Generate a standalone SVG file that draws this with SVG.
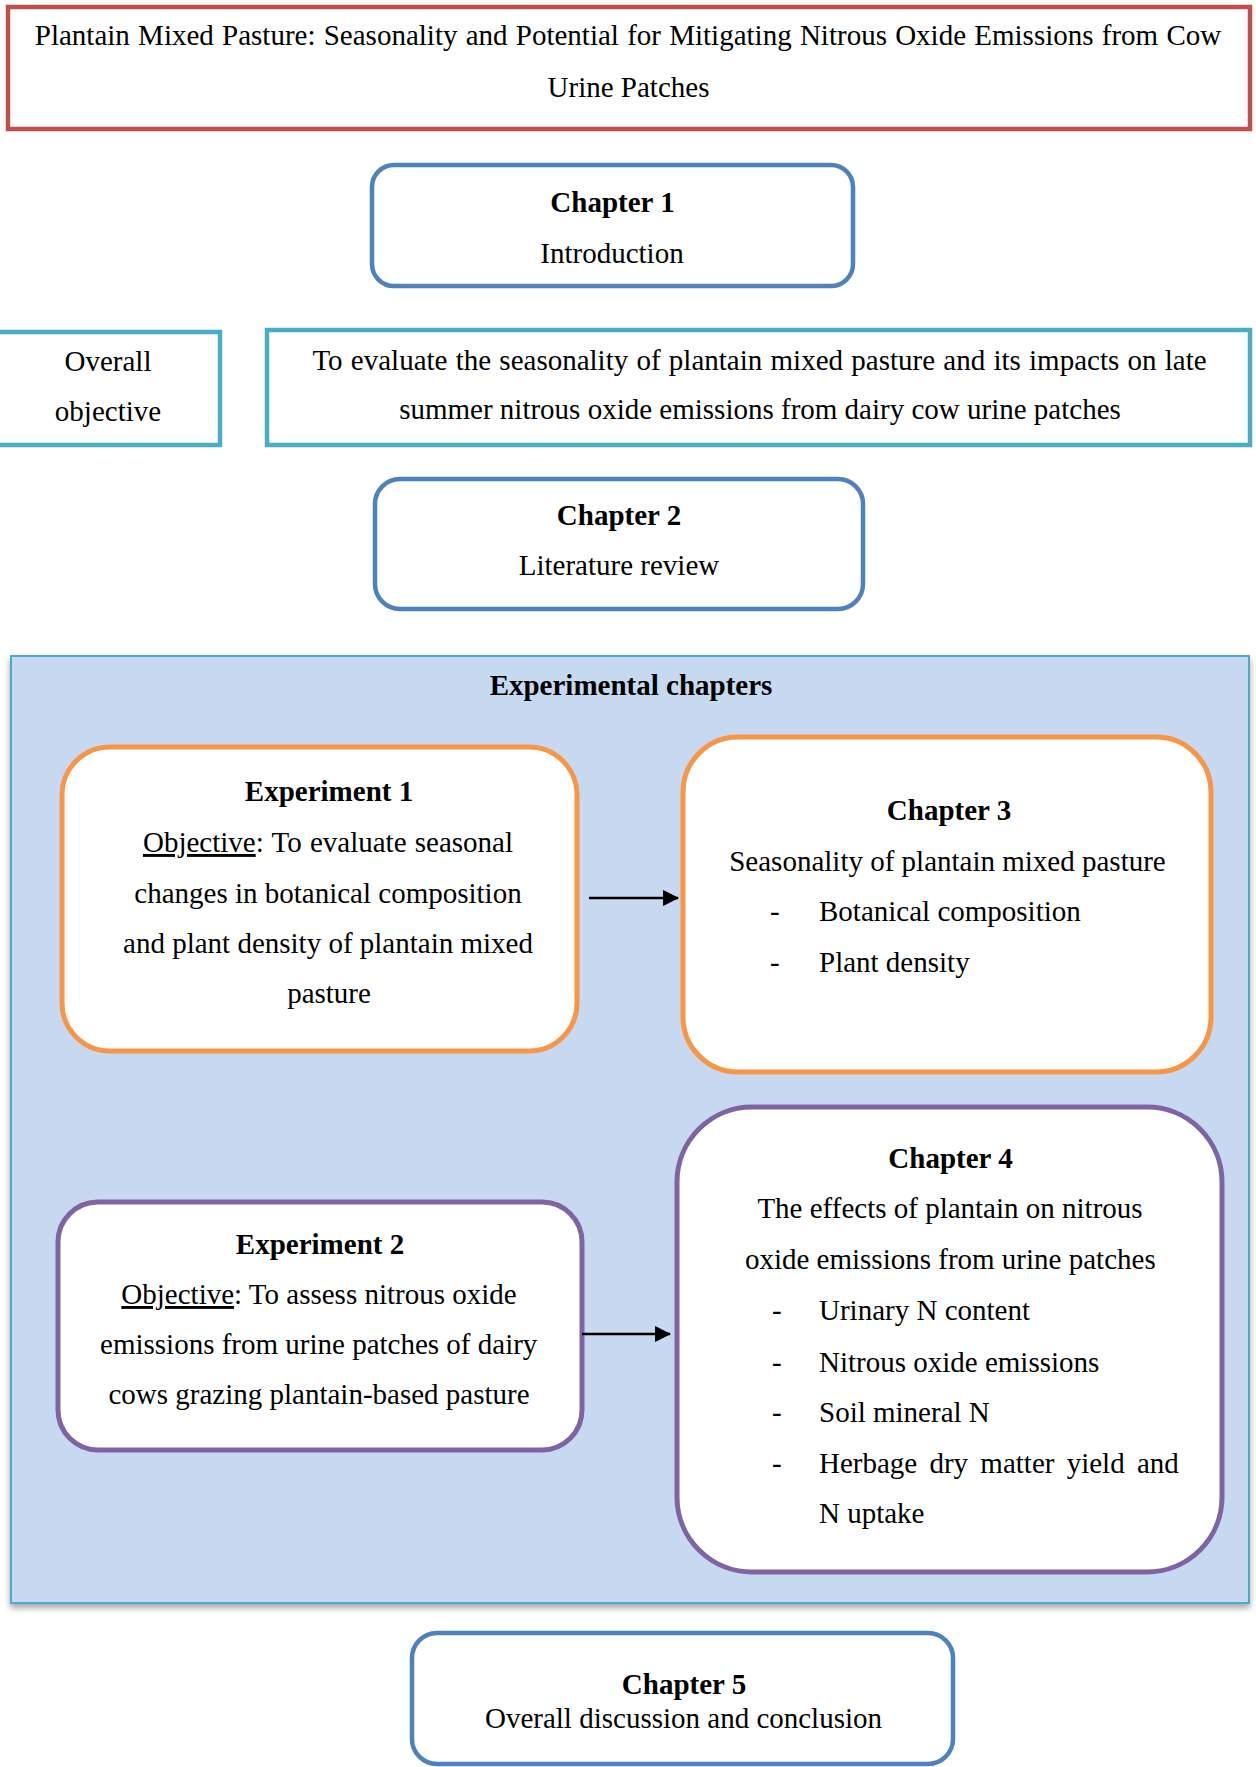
<svg xmlns="http://www.w3.org/2000/svg" width="1256" height="1767" viewBox="0 0 1256 1767">
<defs>
<style>
text{font-family:"Liberation Serif","Times New Roman",serif;font-size:29px;fill:#000}
.c{text-anchor:middle}
.b{font-weight:bold}
.u{text-decoration:underline}
.red{fill:#fff;stroke:#C0504D;stroke-width:4.5}
.blue{fill:#fff;stroke:#4F81BD;stroke-width:4.5}
.teal{fill:#fff;stroke:#4BACC6;stroke-width:4.5}
.orange{fill:#fff;stroke:#F79646;stroke-width:5}
.purple{fill:#fff;stroke:#8064A2;stroke-width:5}
.conn{stroke:#000;stroke-width:2.3;fill:none}
</style>
<marker id="ah" markerWidth="7" markerHeight="7" refX="6.5" refY="3.5" orient="auto" markerUnits="strokeWidth">
<path d="M0,0 L7,3.5 L0,7 Z" fill="#000"/>
</marker>
<filter id="shadow" x="-5%" y="-5%" width="110%" height="110%">
<feDropShadow dx="0" dy="4" stdDeviation="3" flood-color="#7f7f7f" flood-opacity="0.7"/>
</filter>
</defs>
<rect width="1256" height="1767" fill="#fff"/>

<g id="title">
<rect class="red" x="8" y="7" width="1242" height="122"/>
<text class="c" x="628" y="45" word-spacing="1">Plantain Mixed Pasture: Seasonality and Potential for Mitigating Nitrous Oxide Emissions from Cow</text>
<text class="c" x="628.5" y="97">Urine Patches</text>
</g>

<g id="chapter1">
<rect class="blue" x="372" y="165" width="481" height="121" rx="22"/>
<text class="c b" x="612.5" y="212">Chapter 1</text>
<text class="c" x="612" y="263">Introduction</text>
</g>

<g id="overall-objective-label">
<rect class="teal" x="-3" y="332" width="223" height="113"/>
<text class="c" x="108" y="371">Overall</text>
<text class="c" x="108" y="421">objective</text>
</g>

<g id="overall-objective">
<rect class="teal" x="267" y="330" width="983" height="115"/>
<text class="c" x="759.5" y="370" word-spacing="1">To evaluate the seasonality of plantain mixed pasture and its impacts on late</text>
<text class="c" x="760" y="419">summer nitrous oxide emissions from dairy cow urine patches</text>
</g>

<g id="chapter2">
<rect class="blue" x="375" y="479" width="488" height="130" rx="25"/>
<text class="c b" x="619" y="525">Chapter 2</text>
<text class="c" x="619" y="575">Literature review</text>
</g>

<g id="experimental-chapters">
<rect x="11" y="656" width="1238" height="947" fill="#C6D9F1" stroke="#4BACC6" stroke-width="2" filter="url(#shadow)"/>
<text class="c b" x="631" y="695">Experimental chapters</text>
</g>

<g id="experiment1">
<rect class="orange" x="62" y="747" width="515" height="304" rx="48"/>
<text class="c b" x="329" y="801">Experiment 1</text>
<text class="c" x="328" y="852" word-spacing="1"><tspan class="u">Objective</tspan>: To evaluate seasonal</text>
<text class="c" x="328" y="903">changes in botanical composition</text>
<text class="c" x="328" y="953">and plant density of plantain mixed</text>
<text class="c" x="329" y="1003">pasture</text>
</g>

<g id="chapter3">
<rect class="orange" x="683" y="737" width="528" height="335" rx="55"/>
<text class="c b" x="949" y="820">Chapter 3</text>
<text class="c" x="947.5" y="871">Seasonality of plantain mixed pasture</text>
<text x="770" y="921">-</text>
<text x="819" y="921">Botanical composition</text>
<text x="770" y="972">-</text>
<text x="819" y="972">Plant density</text>
</g>

<g id="experiment2">
<rect class="purple" x="58" y="1202" width="524" height="248" rx="40"/>
<text class="c b" x="320" y="1254">Experiment 2</text>
<text class="c" x="319" y="1304"><tspan class="u">Objective</tspan>: To assess nitrous oxide</text>
<text class="c" x="318.7" y="1354">emissions from urine patches of dairy</text>
<text class="c" x="319" y="1404">cows grazing plantain-based pasture</text>
</g>

<g id="chapter4">
<rect class="purple" x="677" y="1107" width="545" height="465" rx="75"/>
<text class="c b" x="950.5" y="1168">Chapter 4</text>
<text class="c" x="950" y="1218">The effects of plantain on nitrous</text>
<text class="c" x="950.3" y="1269">oxide emissions from urine patches</text>
<text x="772" y="1320">-</text>
<text x="819" y="1320">Urinary N content</text>
<text x="772" y="1372">-</text>
<text x="819" y="1372">Nitrous oxide emissions</text>
<text x="772" y="1422">-</text>
<text x="819" y="1422">Soil mineral N</text>
<text x="772" y="1473">-</text>
<text x="819" y="1473" word-spacing="5">Herbage dry matter yield and</text>
<text x="819" y="1523">N uptake</text>
</g>

<g id="chapter5">
<rect class="blue" x="412" y="1633" width="541" height="131" rx="25"/>
<text class="c b" x="684" y="1694">Chapter 5</text>
<text class="c" x="683.5" y="1728">Overall discussion and conclusion</text>
</g>

<g id="connectors">
<line class="conn" x1="589" y1="898" x2="678" y2="898" marker-end="url(#ah)"/>
<line class="conn" x1="582" y1="1334" x2="670" y2="1334" marker-end="url(#ah)"/>
</g>
</svg>
